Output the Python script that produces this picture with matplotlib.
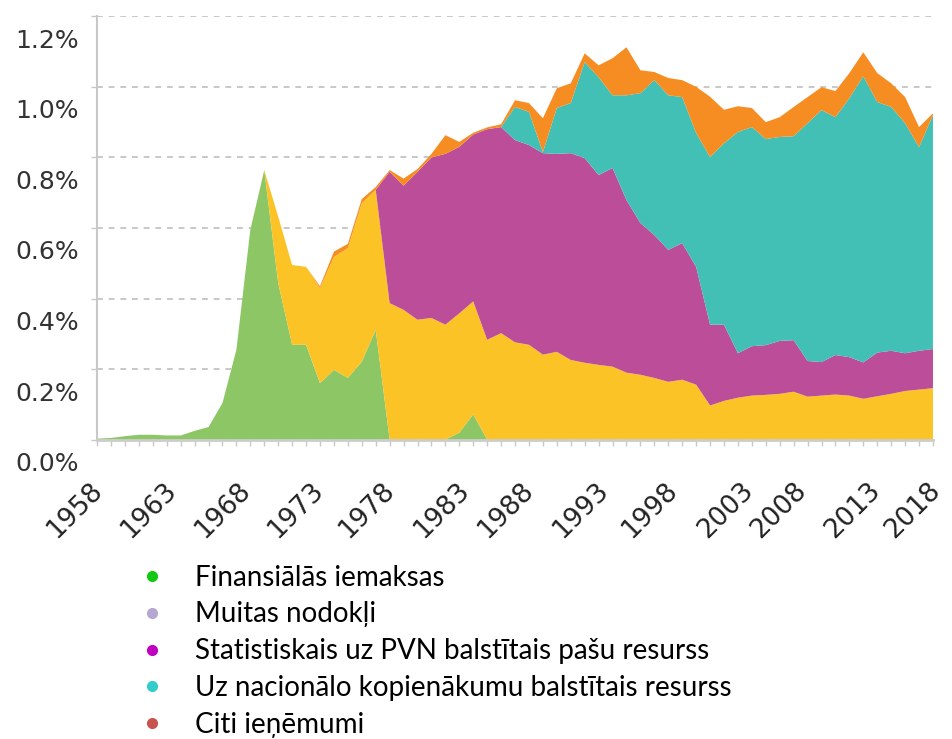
import numpy as np
import matplotlib.pyplot as plt
from matplotlib.lines import Line2D
from matplotlib.transforms import ScaledTranslation

years = list(range(1958, 2019))

# % no NKI, nolasīts no attēla
finansialas = [0.003, 0.005, 0.010, 0.014, 0.014, 0.012, 0.012, 0.025, 0.036, 0.104,
               0.255, 0.595, 0.764, 0.444, 0.269, 0.269, 0.160, 0.198, 0.175, 0.221,
               0.311, 0, 0, 0, 0, 0, 0.020, 0.072, 0, 0,
               0, 0, 0, 0, 0, 0, 0, 0, 0, 0,
               0, 0, 0, 0, 0, 0, 0, 0, 0, 0,
               0, 0, 0, 0, 0, 0, 0, 0, 0, 0,
               0]
muitas = [0, 0, 0, 0, 0, 0, 0, 0, 0, 0,
          0, 0, 0, 0.188, 0.226, 0.221, 0.270, 0.320, 0.368, 0.449,
          0.397, 0.387, 0.368, 0.340, 0.345, 0.326, 0.338, 0.320, 0.283, 0.302,
          0.276, 0.269, 0.241, 0.249, 0.226, 0.218, 0.212, 0.207, 0.190, 0.184,
          0.175, 0.164, 0.170, 0.156, 0.097, 0.110, 0.119, 0.125, 0.127, 0.130,
          0.136, 0.122, 0.125, 0.128, 0.125, 0.116, 0.123, 0.130, 0.138, 0.142,
          0.146]
pvn = [0, 0, 0, 0, 0, 0, 0, 0, 0, 0,
       0, 0, 0, 0, 0, 0, 0, 0, 0, 0,
       0, 0.372, 0.352, 0.419, 0.455, 0.484, 0.472, 0.473, 0.597, 0.584,
       0.573, 0.566, 0.571, 0.561, 0.586, 0.580, 0.538, 0.563, 0.489, 0.430,
       0.405, 0.374, 0.387, 0.334, 0.229, 0.216, 0.126, 0.140, 0.141, 0.150,
       0.146, 0.101, 0.095, 0.112, 0.109, 0.103, 0.124, 0.122, 0.107, 0.110,
       0.111]
nki = [0, 0, 0, 0, 0, 0, 0, 0, 0, 0,
       0, 0, 0, 0, 0, 0, 0, 0, 0, 0,
       0, 0, 0, 0, 0, 0, 0, 0, 0, 0,
       0.094, 0.094, 0.003, 0.130, 0.142, 0.272, 0.277, 0.206, 0.297, 0.368,
       0.439, 0.438, 0.414, 0.379, 0.475, 0.514, 0.627, 0.621, 0.584, 0.578,
       0.578, 0.674, 0.714, 0.674, 0.734, 0.811, 0.710, 0.691, 0.652, 0.577,
       0.663]
citi = [0, 0, 0, 0, 0, 0, 0, 0, 0, 0,
        0, 0, 0, 0, 0, 0, 0.005, 0.015, 0.012, 0.012,
        0.008, 0.005, 0.020, 0.008, 0.010, 0.053, 0.014, 0.005, 0.005, 0.008,
        0.019, 0.025, 0.096, 0.056, 0.056, 0.025, 0.034, 0.105, 0.136, 0.065,
        0.023, 0.049, 0.048, 0.131, 0.171, 0.095, 0.073, 0.054, 0.048, 0.056,
        0.083, 0.074, 0.065, 0.074, 0.071, 0.068, 0.082, 0.067, 0.074, 0.057,
        0.005]

labels = ['Finansiālās iemaksas', 'Muitas nodokļi',
          'Statistiskais uz PVN balstītais pašu resurss',
          'Uz nacionālo kopienākumu balstītais resurss', 'Citi ieņēmumi']
area_colors = ['#8cc665', '#fbc326', '#bc4e99', '#42c0b5', '#f68d23']
dot_colors = ['#12c812', '#b5a6d2', '#c000c0', '#33cccc', '#c8544f']

fig = plt.figure(figsize=(9.52, 7.39), dpi=100)
ax = fig.add_axes([0.102, 0.405, 0.878, 0.573])

ax.stackplot(years, finansialas, muitas, pvn, nki, citi,
             colors=area_colors, linewidth=0, zorder=2)

ax.set_xlim(1958, 2018)
ax.set_ylim(0, 1.2)

yt = [0, 0.2, 0.4, 0.6, 0.8, 1.0, 1.2]
ax.set_yticks(yt)
ax.set_yticklabels(['%.1f%%' % v for v in yt], fontsize=18, color='#333333')
ax.yaxis.grid(True, color='#c8c8c8', linestyle=(0, (3, 3)), linewidth=1.4, zorder=0)
ax.set_axisbelow(True)

xt = list(range(1958, 2019, 5))
ax.set_xticks(xt)
ax.set_xticklabels([str(x) for x in xt], rotation=45, ha='right',
                   rotation_mode='anchor', fontsize=19, color='#222222')
ax.set_xticks(years, minor=True)

ax.tick_params(axis='x', which='both', length=4, width=1, color='#c8c8c8', pad=4)
ax.tick_params(axis='y', length=4, width=1, color='#c8c8c8', pad=9)

for s in ['top', 'right']:
    ax.spines[s].set_visible(False)
ax.spines['left'].set_color('#c8c8c8')
ax.spines['left'].set_linewidth(1.5)
ax.spines['bottom'].set_color('#cccccc')
ax.spines['bottom'].set_linewidth(2)

# etiķetes nobīdītas kā oriģinālā
off_y = ScaledTranslation(0, -22 / 100, fig.dpi_scale_trans)
for lab in ax.get_yticklabels():
    lab.set_transform(lab.get_transform() + off_y)
nudge = [15, 20, 24, 27, 29, 34, 28, 34, 33, 39, 23, 27, 17]
for lab, dx in zip(ax.get_xticklabels(), nudge):
    lab.set_transform(lab.get_transform() +
                      ScaledTranslation((dx - 23) / 100, -27 / 100, fig.dpi_scale_trans))

handles = [Line2D([], [], marker='o', linestyle='', color=c, markersize=7)
           for c in dot_colors]
fig.legend(handles, labels, loc='upper left', bbox_to_anchor=(0.13, 0.236),
           frameon=False, prop={'family': 'Lato', 'size': 20},
           labelspacing=0.39, handletextpad=0.55, borderaxespad=0, borderpad=0)

plt.savefig('out.png', dpi=100)
